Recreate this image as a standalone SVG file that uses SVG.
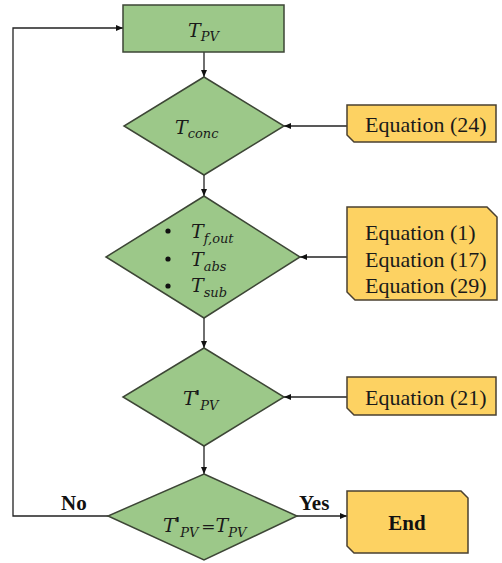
<svg xmlns="http://www.w3.org/2000/svg" width="502" height="563" viewBox="0 0 502 563">
<style>
.g{fill:#9cc889;stroke:#3d4636;stroke-width:1.5}
.y{fill:#fdd262;stroke:#4a4030;stroke-width:1.5}
.c{fill:none;stroke:#222;stroke-width:1.3}
.m{font-family:"DejaVu Serif","Liberation Serif",serif;font-style:italic;fill:#1a1a1a;font-size:19px}
.s{font-size:13px}
.p{font-size:18px;font-weight:bold}
.e{font-family:"Liberation Serif","Times New Roman",serif;font-size:22px;fill:#1a1a1a}
.b{font-family:"Liberation Serif","Times New Roman",serif;font-size:21px;font-weight:bold;fill:#111}
</style>
<defs>
<marker id="a" markerWidth="7" markerHeight="6" refX="7" refY="3" orient="auto" markerUnits="userSpaceOnUse">
<path d="M0,0 L7,3 L0,6 Z" fill="#111"/>
</marker>
</defs>
<rect width="502" height="563" fill="#fff"/>
<g id="connectors">
<line class="c" x1="204" y1="52" x2="204" y2="77" marker-end="url(#a)"/>
<line class="c" x1="204" y1="175" x2="204" y2="196" marker-end="url(#a)"/>
<line class="c" x1="204" y1="318" x2="204" y2="348" marker-end="url(#a)"/>
<line class="c" x1="204" y1="446" x2="204" y2="474" marker-end="url(#a)"/>
<line class="c" x1="347" y1="126" x2="284" y2="126" marker-end="url(#a)"/>
<line class="c" x1="347" y1="257" x2="300" y2="257" marker-end="url(#a)"/>
<line class="c" x1="347" y1="397" x2="284" y2="397" marker-end="url(#a)"/>
<line class="c" x1="297" y1="516" x2="347" y2="516" marker-end="url(#a)"/>
<polyline class="c" points="108,516 13,516 13,28 123,28" marker-end="url(#a)"/>
<text class="b" x="299" y="510">Yes</text>
<text class="b" x="61" y="510">No</text>
</g>
<g id="tpv">
<rect class="g" x="123" y="5" width="161" height="47"/>
<text class="m" x="188" y="37">T<tspan class="s" dy="4">PV</tspan></text>
</g>
<g id="tconc">
<polygon class="g" points="204,77 284,126 204,175 124,126"/>
<text class="m" x="175" y="134">T<tspan class="s" dy="4">conc</tspan></text>
</g>
<g id="tmulti">
<polygon class="g" points="204,196 300,257 204,318 106,257"/>
<circle cx="168" cy="231" r="2.6" fill="#111"/>
<circle cx="168" cy="259" r="2.6" fill="#111"/>
<circle cx="168" cy="286" r="2.6" fill="#111"/>
<text class="m" x="191" y="238">T<tspan class="s" dy="5">f,out</tspan></text>
<text class="m" x="191" y="266">T<tspan class="s" dy="5">abs</tspan></text>
<text class="m" x="191" y="292">T<tspan class="s" dy="5">sub</tspan></text>
</g>
<g id="tpvprime">
<polygon class="g" points="204,348 284,397 204,446 123,397"/>
<text class="m" x="183" y="405">T<tspan class="p" dx="-1" dy="-1">'</tspan><tspan class="s" dy="6">PV</tspan></text>
</g>
<g id="check">
<polygon class="g" points="204,474 297,516 204,560 108,516"/>
<text class="m" x="163" y="532">T<tspan class="p" dx="-1" dy="-1">'</tspan><tspan class="s" dy="6">PV</tspan><tspan dx="3" dy="-5" font-size="17">=</tspan><tspan>T</tspan><tspan class="s" dy="5">PV</tspan></text>
</g>
<g id="eq24">
<path class="y" d="M347,105 H496 V142 H354 L347,135 Z"/>
<text class="e" x="365" y="132">Equation (24)</text>
</g>
<g id="eqmulti">
<path class="y" d="M347,207 H487 L497,217 V300 H355 L347,292 Z"/>
<text class="e" x="365" y="240">Equation (1)</text>
<text class="e" x="365" y="267">Equation (17)</text>
<text class="e" x="365" y="293">Equation (29)</text>
</g>
<g id="eq21">
<path class="y" d="M347,377 H496 V415 H354 L347,408 Z"/>
<text class="e" x="365" y="405">Equation (21)</text>
</g>
<g id="end">
<path class="y" d="M347,491 H461 L468,498 V553 H354 L347,546 Z"/>
<text class="b" x="407" y="530" text-anchor="middle">End</text>
</g>
</svg>
